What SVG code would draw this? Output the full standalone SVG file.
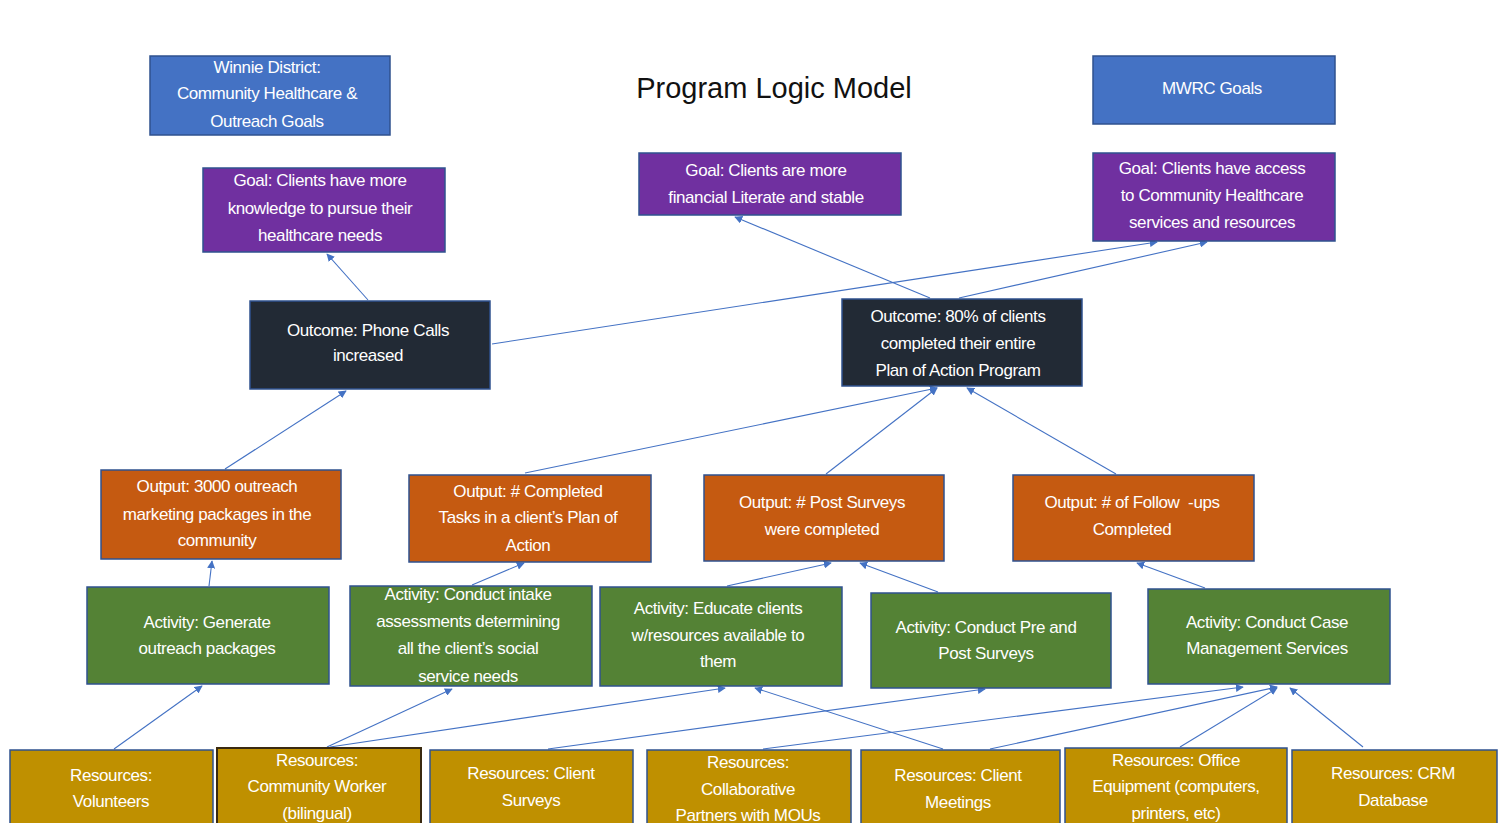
<svg xmlns="http://www.w3.org/2000/svg" width="1504" height="823" viewBox="0 0 1504 823">
<style>
.box{stroke:#2F528F;stroke-width:1.5}
.hdr{fill:#4472C4}
.goal{fill:#7030A0}
.outc{fill:#222A35}
.outp{fill:#C55A11}
.act{fill:#548235}
.res{fill:#BF9000}
.t{font-family:"Liberation Sans",Arial,sans-serif;font-size:17px;fill:#fff;text-anchor:middle;letter-spacing:-0.4px}
.title{font-family:"Liberation Sans",Arial,sans-serif;font-size:29px;fill:#111;text-anchor:middle}
.c{stroke:#4472C4;stroke-width:1.1;fill:none;marker-end:url(#ah)}
</style>
<defs>
<marker id="ah" viewBox="0 0 10 10" refX="9" refY="5" markerWidth="8" markerHeight="8" markerUnits="userSpaceOnUse" orient="auto">
<path d="M0,0 L10,5 L0,10 z" fill="#4472C4"/>
</marker>
</defs>
<rect width="1504" height="823" fill="#fff"/>
<text class="title" x="774" y="98">Program Logic Model</text>

<g id="connectors">
<line class="c" x1="368" y1="300" x2="327" y2="254"/>
<line class="c" x1="492" y1="344" x2="1157" y2="242"/>
<line class="c" x1="930" y1="298" x2="735" y2="217"/>
<line class="c" x1="959" y1="298" x2="1207" y2="242"/>
<line class="c" x1="225" y1="469" x2="346" y2="391"/>
<line class="c" x1="525" y1="473" x2="937" y2="388"/>
<line class="c" x1="826" y1="474" x2="937" y2="388"/>
<line class="c" x1="1116" y1="474" x2="967" y2="388"/>
<line class="c" x1="209" y1="586" x2="212" y2="561"/>
<line class="c" x1="472" y1="585" x2="524" y2="563"/>
<line class="c" x1="727" y1="586" x2="831" y2="563"/>
<line class="c" x1="938" y1="592" x2="860" y2="563"/>
<line class="c" x1="1205" y1="588" x2="1137" y2="563"/>
<line class="c" x1="114" y1="749" x2="202" y2="686"/>
<line class="c" x1="327" y1="747" x2="452" y2="689"/>
<line class="c" x1="330" y1="747" x2="725" y2="688"/>
<line class="c" x1="548" y1="749" x2="985" y2="689"/>
<line class="c" x1="763" y1="749" x2="1243" y2="687"/>
<line class="c" x1="943" y1="749" x2="755" y2="688"/>
<line class="c" x1="990" y1="749" x2="1277" y2="687"/>
<line class="c" x1="1180" y1="747" x2="1277" y2="688"/>
<line class="c" x1="1363" y1="747" x2="1290" y2="688"/>
</g>

<g id="winnie"><rect class="box hdr" x="150" y="56" width="240" height="79"/>
<text class="t"><tspan x="267" y="73">Winnie District:</tspan><tspan x="267" y="99">Community Healthcare &amp;</tspan><tspan x="267" y="127">Outreach Goals</tspan></text></g>
<g id="mwrc"><rect class="box hdr" x="1093" y="56" width="242" height="68"/>
<text class="t" x="1212" y="94">MWRC Goals</text></g>

<g id="goal1"><rect class="box goal" x="203" y="168" width="242" height="84"/>
<text class="t"><tspan x="320" y="186">Goal: Clients have more</tspan><tspan x="320" y="214">knowledge to pursue their</tspan><tspan x="320" y="241">healthcare needs</tspan></text></g>
<g id="goal2"><rect class="box goal" x="639" y="153" width="262" height="62"/>
<text class="t"><tspan x="766" y="176">Goal: Clients are more</tspan><tspan x="766" y="203">financial Literate and stable</tspan></text></g>
<g id="goal3"><rect class="box goal" x="1093" y="153" width="242" height="88"/>
<text class="t"><tspan x="1212" y="174">Goal: Clients have access</tspan><tspan x="1212" y="201">to Community Healthcare</tspan><tspan x="1212" y="228">services and resources</tspan></text></g>

<g id="outcome1"><rect class="box outc" x="250" y="301" width="240" height="88"/>
<text class="t"><tspan x="368" y="336">Outcome: Phone Calls</tspan><tspan x="368" y="361">increased</tspan></text></g>
<g id="outcome2"><rect class="box outc" x="842" y="299" width="240" height="87"/>
<text class="t"><tspan x="958" y="322">Outcome: 80% of clients</tspan><tspan x="958" y="349">completed their entire</tspan><tspan x="958" y="376">Plan of Action Program</tspan></text></g>

<g id="output1"><rect class="box outp" x="101" y="470" width="240" height="89"/>
<text class="t"><tspan x="217" y="492">Output: 3000 outreach</tspan><tspan x="217" y="520">marketing packages in the</tspan><tspan x="217" y="546">community</tspan></text></g>
<g id="output2"><rect class="box outp" x="409" y="475" width="242" height="87"/>
<text class="t"><tspan x="528" y="497">Output: # Completed</tspan><tspan x="528" y="523">Tasks in a client’s Plan of</tspan><tspan x="528" y="551">Action</tspan></text></g>
<g id="output3"><rect class="box outp" x="704" y="475" width="240" height="86"/>
<text class="t"><tspan x="822" y="508">Output: # Post Surveys</tspan><tspan x="822" y="535">were completed</tspan></text></g>
<g id="output4"><rect class="box outp" x="1013" y="475" width="241" height="86"/>
<text class="t" style="white-space:pre"><tspan x="1132" y="508">Output: # of Follow  -ups</tspan><tspan x="1132" y="535">Completed</tspan></text></g>

<g id="activity1"><rect class="box act" x="87" y="587" width="242" height="97"/>
<text class="t"><tspan x="207" y="628">Activity: Generate</tspan><tspan x="207" y="654">outreach packages</tspan></text></g>
<g id="activity2"><rect class="box act" x="350" y="586" width="242" height="100"/>
<text class="t"><tspan x="468" y="600">Activity: Conduct intake</tspan><tspan x="468" y="627">assessments determining</tspan><tspan x="468" y="654">all the client’s social</tspan><tspan x="468" y="682">service needs</tspan></text></g>
<g id="activity3"><rect class="box act" x="600" y="587" width="242" height="99"/>
<text class="t"><tspan x="718" y="614">Activity: Educate clients</tspan><tspan x="718" y="641">w/resources available to</tspan><tspan x="718" y="667">them</tspan></text></g>
<g id="activity4"><rect class="box act" x="871" y="593" width="240" height="95"/>
<text class="t"><tspan x="986" y="633">Activity: Conduct Pre and</tspan><tspan x="986" y="659">Post Surveys</tspan></text></g>
<g id="activity5"><rect class="box act" x="1148" y="589" width="242" height="95"/>
<text class="t"><tspan x="1267" y="628">Activity: Conduct Case</tspan><tspan x="1267" y="654">Management Services</tspan></text></g>

<g id="res1"><rect class="box res" x="10" y="750" width="203" height="80"/>
<text class="t"><tspan x="111" y="781">Resources:</tspan><tspan x="111" y="807">Volunteers</tspan></text></g>
<g id="res2"><rect class="res" x="217" y="748" width="204" height="82" stroke="#3A2A10" stroke-width="2"/>
<text class="t"><tspan x="317" y="766">Resources:</tspan><tspan x="317" y="792">Community Worker</tspan><tspan x="317" y="819">(bilingual)</tspan></text></g>
<g id="res3"><rect class="box res" x="430" y="750" width="203" height="80"/>
<text class="t"><tspan x="531" y="779">Resources: Client</tspan><tspan x="531" y="806">Surveys</tspan></text></g>
<g id="res4"><rect class="box res" x="647" y="750" width="204" height="80"/>
<text class="t"><tspan x="748" y="768">Resources:</tspan><tspan x="748" y="795">Collaborative</tspan><tspan x="748" y="821">Partners with MOUs</tspan></text></g>
<g id="res5"><rect class="box res" x="861" y="750" width="199" height="80"/>
<text class="t"><tspan x="958" y="781">Resources: Client</tspan><tspan x="958" y="808">Meetings</tspan></text></g>
<g id="res6"><rect class="box res" x="1065" y="748" width="222" height="82"/>
<text class="t"><tspan x="1176" y="766">Resources: Office</tspan><tspan x="1176" y="792">Equipment (computers,</tspan><tspan x="1176" y="819">printers, etc)</tspan></text></g>
<g id="res7"><rect class="box res" x="1292" y="750" width="205" height="80"/>
<text class="t"><tspan x="1393" y="779">Resources: CRM</tspan><tspan x="1393" y="806">Database</tspan></text></g>
</svg>
